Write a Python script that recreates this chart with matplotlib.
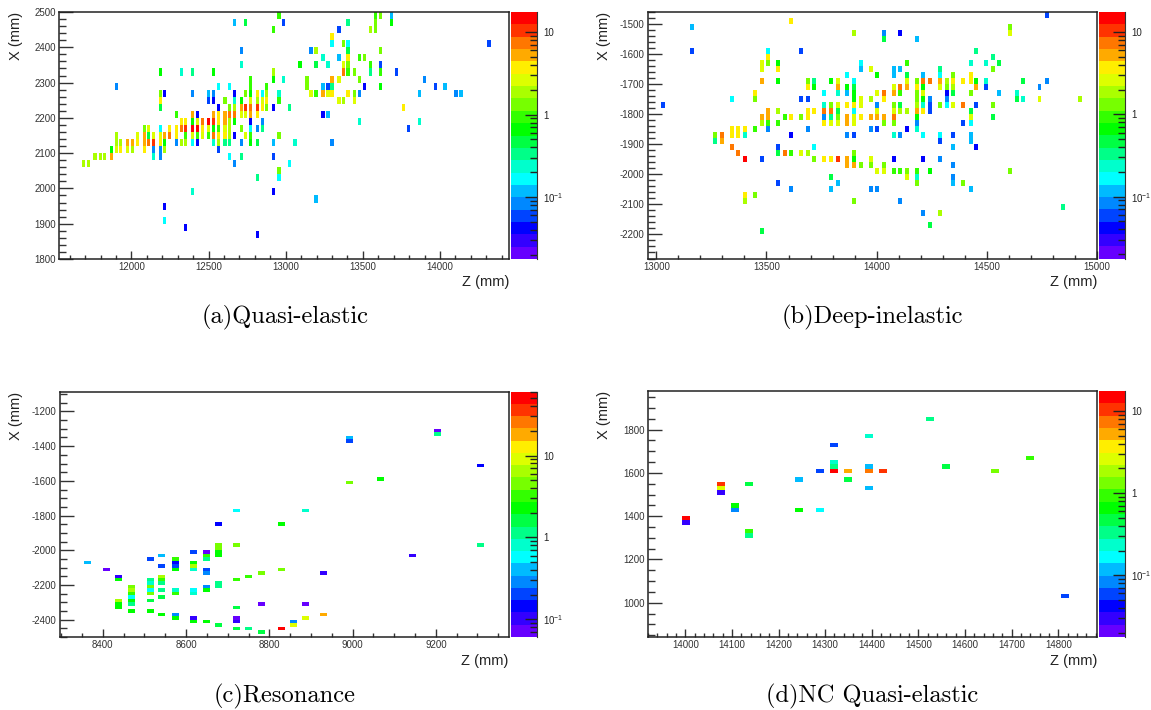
import numpy as np
import matplotlib
matplotlib.use('Agg')
import matplotlib.pyplot as plt
from matplotlib.colors import ListedColormap, BoundaryNorm
from matplotlib.ticker import MultipleLocator, LogLocator, NullFormatter

plt.rcParams['font.family'] = ['Liberation Sans', 'DejaVu Sans']
plt.rcParams['mathtext.fontset'] = 'custom'
plt.rcParams['mathtext.rm'] = 'Liberation Sans'
plt.rcParams['mathtext.default'] = 'rm'
plt.rcParams['axes.unicode_minus'] = False

W, H = 1151, 710

# Panel (a) Quasi-elastic: rows of X, with the Z and content of the filled bins in each row
a_x = [2490, 2470, 2450, 2430, 2410, 2390, 2370, 2350, 2330, 2310, 2290, 2270, 2250, 2230, 2210, 2190,
       2170, 2150, 2130, 2110, 2090, 2070, 2050, 2030, 1990, 1970, 1950, 1910, 1890, 1870]
a_z = [
    [12955, 13583, 13615, 13686],
    [12669, 12740, 12987, 13402, 13583, 13686],
    [12922, 13344, 13550, 13583],
    [13299],
    [13299, 13376, 13402, 14318],
    [12714, 13163, 13196, 13402, 13615],
    [13241, 13344, 13402, 13479, 13512],
    [12714, 13092, 13196, 13273, 13376, 13402, 13550, 13615],
    [12188, 12325, 12396, 12533, 12922, 13376, 13402, 13447, 13550, 13615, 13718],
    [12773, 12922, 12987, 13138, 13299, 13344, 13479, 13899],
    [11903, 12565, 12637, 12773, 12877, 13138, 13241, 13273, 13299, 13512, 13615, 13970, 14034],
    [12188, 12214, 12396, 12500, 12533, 12669, 12740, 12773, 12818, 12851, 12877, 12955, 13163, 13196,
     13241, 13273, 13299, 13402, 13447, 13479, 13866, 14105, 14137],
    [12188, 12500, 12533, 12607, 12669, 12714, 12773, 12818, 12851, 12877, 12955, 13344, 13376, 13447],
    [12188, 12565, 12637, 12669, 12714, 12740, 12773, 12818, 12851, 12877, 12922, 13026, 13763],
    [12292, 12396, 12429, 12533, 12565, 12607, 12637, 12669, 12714, 12740, 12773, 12818, 13241, 13273],
    [12325, 12351, 12396, 12429, 12461, 12500, 12533, 12565, 12607, 12637, 12669, 12773, 12851, 13479, 13866],
    [12084, 12110, 12188, 12247, 12292, 12325, 12351, 12396, 12429, 12461, 12500, 12533, 12565, 12607,
     12637, 12714, 12773, 12818, 12851, 13795],
    [11903, 12039, 12084, 12110, 12143, 12188, 12214, 12247, 12292, 12351, 12396, 12429, 12461, 12500,
     12533, 12565, 12607, 12637, 12669, 12740, 12773, 12955],
    [11903, 11929, 11974, 12006, 12039, 12084, 12110, 12143, 12188, 12214, 12292, 12325, 12351, 12396,
     12429, 12533, 12565, 12607, 12637, 12714, 12773, 12818, 12922, 13059, 13299],
    [11870, 11903, 11929, 11974, 12006, 12084, 12143, 12188, 12214, 12565],
    [11766, 11799, 11825, 11870, 12143, 12188, 12637, 12714, 12922],
    [11690, 11723, 12669, 13026],
    [12955],
    [12818, 12955],
    [12396, 12922],
    [13196],
    [12214],
    [12214],
    [12351],
    [12818],
]
a_v = [
    [.94, .94, 1.33, .118],
    [.118, .471, .059, .333, 1.33, .665],
    [.94, .059, 1.87, 1.33],
    [3.74],
    [.167, 1.33, .167, .059],
    [.084, .084, 1.87, .471, 1.33],
    [.236, .118, 3.74, .94, 1.33],
    [.236, .665, .471, .236, 2.65, 1.33, .94, .059],
    [.665, .236, .333, .665, 1.87, 7.46, .94, 1.33, .333, .94, .059],
    [.94, .665, .236, 1.33, 5.28, 2.65, 1.33, .084],
    [.084, .167, .167, .94, .94, 1.33, .118, .059, .333, .042, .665, .059, .118],
    [1.33, .042, .084, .118, .084, .042, 1.33, .665, 3.74, .167, 1.87, .236, 2.65, .94,
     5.28, 2.65, 3.74, 3.74, 1.33, .084, .118, .084, .118],
    [3.74, .059, .042, 1.33, .236, .665, 2.65, 1.87, 2.65, 3.74, .94, 2.65, 1.87, 2.65],
    [.471, .042, 1.33, 1.87, 5.28, 10.5, 7.46, 10.5, 3.74, 1.33, .042, .333, 3.74],
    [.94, 5.28, .042, 5.28, 3.74, 5.28, 7.46, 7.46, 2.65, 2.65, 5.28, 3.74, .042, .118],
    [3.74, 3.74, .665, 2.65, 7.46, 14.9, 10.5, 3.74, 5.28, 1.87, .665, .042, .084, .236, .236],
    [1.33, 2.65, .167, 3.74, 3.74, 7.46, 10.5, 14.9, 14.9, 3.74, 2.65, .665, .94, 2.65,
     1.87, 1.33, .167, .084, .333, .059],
    [1.87, 2.65, 5.28, .471, 2.65, 2.65, 5.28, 7.46, 3.74, .94, 2.65, .94, 2.65, .94,
     7.46, 3.74, 3.74, 1.87, .042, 2.65, .94, 1.33],
    [1.87, 1.87, 5.28, 5.28, 3.74, 5.28, 7.46, 10.5, 3.74, .665, .084, 1.87, 1.87, .167,
     .042, .236, 1.87, .333, .333, .084, .665, .471, .118, .236, .084],
    [.665, 2.65, 3.74, 2.65, 1.87, 3.74, .084, .084, 1.87, .059],
    [1.87, 1.87, 1.87, 5.28, .236, .084, .167, .333, .059],
    [1.87, 1.87, .084, .167],
    [1.33],
    [.333, .167],
    [.236, .042],
    [.118],
    [.042],
    [.167],
    [.042],
    [.042],
]

# Panel (b) Deep-inelastic
b_x = [-1470, -1490, -1510, -1530, -1550, -1590, -1610, -1630, -1650, -1670, -1690, -1710, -1730, -1750,
       -1770, -1790, -1810, -1830, -1850, -1870, -1890, -1910, -1930, -1950, -1970, -1990, -2010, -2030,
       -2050, -2070, -2090, -2110, -2130, -2170, -2190]
b_z = [
    [14771],
    [13612],
    [13162, 14603],
    [13898, 14035, 14107, 14603],
    [14035, 14185],
    [13162, 13508, 13657, 14453],
    [13508, 14530],
    [13480, 13508, 13553, 13930, 14139, 14426, 14498, 14557],
    [13480, 13553, 13930, 13976, 14080, 14107, 14289, 14530],
    [13867, 14003, 14080, 14139, 14212, 14289, 14348, 14426],
    [13480, 13553, 13689, 13717, 13794, 13826, 13898, 14139, 14185, 14212, 14244, 14289, 14321, 14348,
     14394, 14426, 14453, 14498, 14662, 14771],
    [13689, 13717, 13826, 13867, 13898, 14080, 14107, 14139, 14185, 14212, 14289, 14321, 14348, 14453,
     14498, 14739],
    [13448, 13762, 13826, 13867, 13898, 14003, 14035, 14080, 14107, 14185, 14212, 14321, 14348, 14426,
     14557, 14635],
    [13344, 13448, 13657, 13689, 13898, 13930, 13976, 14035, 14185, 14212, 14244, 14321, 14635, 14662,
     14739, 14921],
    [13030, 13762, 13794, 13826, 13867, 13898, 13930, 14003, 14080, 14107, 14185, 14212, 14244, 14289,
     14321, 14348, 14394, 14453, 14530],
    [13508, 13553, 13689, 13717, 13762, 13794, 13826, 13898, 14003, 14080, 14107, 14139, 14185, 14212,
     14244, 14426],
    [13480, 13508, 13585, 13612, 13657, 13689, 13762, 13794, 13826, 13867, 13898, 13930, 13976, 14003,
     14035, 14080, 14185, 14426, 14530],
    [13480, 13508, 13553, 13762, 13794, 13826, 13867, 13898, 14035, 14080, 14185, 14394, 14426],
    [13344, 13371, 13403, 13448, 13508, 13689, 13976, 14003, 14139, 14185],
    [13267, 13298, 13344, 13371, 13403, 13612, 13867, 13898, 14080, 14107, 14212, 14289, 14348, 14426],
    [13267, 13298, 14289, 14426],
    [13344, 13553, 13717, 14348, 14453],
    [13371, 13553, 13585, 13612, 13657, 13689, 13898],
    [13403, 13480, 13717, 13762, 13794, 13826, 13867, 13898, 13976, 14080, 14212, 14289],
    [13867, 13898, 13930, 13976, 14035, 14348],
    [14003, 14035, 14080, 14107, 14139, 14185, 14244, 14603],
    [13794, 14139, 14185, 14348],
    [13553, 13826, 14185, 14348, 14394],
    [13612, 13794, 13976, 14003, 14426],
    [13403, 13448],
    [13403, 13898, 14107],
    [14844],
    [14212, 14289],
    [14244],
    [13480],
]
b_v = [
    [.059],
    [3.74],
    [.118, 1.33],
    [1.87, .084, .042, 2.65],
    [.471, .118],
    [.059, .167, .059, .333],
    [3.74, .333],
    [2.65, 1.33, .665, .167, .94, .236, .236, .471],
    [2.65, 3.74, .118, 2.65, .118, .118, .333, 1.33],
    [.167, .665, .118, .471, .118, .167, 1.33, 3.74],
    [5.28, .665, 1.33, .333, .665, 2.65, .167, 2.65, 1.33, 7.46, 7.46, 5.28, 1.87, 3.74,
     3.74, 3.74, .665, .236, .471, .084],
    [3.74, .665, 5.28, .665, .471, 2.65, 7.46, 5.28, 3.74, .665, 2.65, 1.33, 1.87, 5.28,
     .059, .084],
    [3.74, .167, .236, .118, .665, 2.65, 7.46, 5.28, .94, 1.33, 2.65, .042, .471, 1.33,
     .118, .236],
    [.167, 1.33, .059, .059, .665, 2.65, 1.87, 3.74, 1.33, .665, .084, .084, .471, .236,
     2.65, 1.87],
    [.059, .236, 1.33, 2.65, 3.74, 3.74, 2.65, .084, 1.33, .471, 1.87, .236, .059, 1.33,
     .167, 2.65, 7.46, .059, 1.33],
    [5.28, 1.87, 3.74, 3.74, 7.46, 7.46, .471, .167, 2.65, 2.65, 1.87, 1.87, 5.28, 3.74,
     .059, .471],
    [5.28, 5.28, .94, 3.74, 1.33, 3.74, .084, .333, 1.33, 5.28, 2.65, 3.74, 5.28, 5.28,
     5.28, 7.46, .665, 2.65, .471],
    [1.87, .94, .94, 3.74, 2.65, 2.65, 5.28, 2.65, 1.33, 1.33, .084, .059, .167],
    [3.74, 3.74, 3.74, .94, .084, .084, .084, .059, .042, .236],
    [1.33, 7.46, 3.74, 3.74, .236, .042, .084, .059, .236, .084, .167, .167, .059, .118],
    [.333, 5.28, .059, .118],
    [7.46, .059, .167, .118, .042],
    [7.46, .471, 7.46, .94, 2.65, 1.87, 1.33],
    [14.9, .059, 1.33, 3.74, 3.74, 10.5, 5.28, .665, 2.65, .042, .042, .084],
    [5.28, 5.28, 1.33, 1.33, 1.33, .084],
    [2.65, 2.65, .94, .94, 1.33, .94, .665, 1.33],
    [.471, 2.65, .236, .084],
    [.059, .118, 1.33, .118, 1.33],
    [.084, .118, .084, .084, .118],
    [3.74, 1.33],
    [1.87, 1.33, .084],
    [.333],
    [.084, 1.87],
    [.471],
    [.471],
]

# Panel (c) Resonance
c_x = [-1310, -1330, -1350, -1370, -1510, -1590, -1610, -1770, -1850, -1970, -1990, -2010, -2030, -2050,
       -2070, -2090, -2110, -2130, -2150, -2170, -2190, -2210, -2230, -2250, -2270, -2290, -2310, -2330,
       -2350, -2370, -2390, -2410, -2430, -2450, -2470]
c_z = [
    [9204],
    [9204],
    [8993],
    [8993],
    [9307],
    [9067],
    [8993],
    [8722, 8888],
    [8677, 8829],
    [8677, 8722, 9307],
    [8677],
    [8617, 8649, 8677],
    [8542, 8649, 8677, 9144],
    [8514, 8574, 8649],
    [8363, 8574, 8617],
    [8542, 8574, 8617],
    [8408, 8574, 8617, 8649, 8829],
    [8649, 8782, 8931],
    [8438, 8542, 8751],
    [8438, 8514, 8542, 8722],
    [8514, 8542, 8677],
    [8469, 8514, 8649, 8677],
    [8469, 8514, 8542, 8574, 8617, 8649],
    [8469, 8514, 8574, 8617],
    [8469, 8542],
    [8438, 8469, 8514],
    [8438, 8469, 8782, 8888],
    [8438, 8722],
    [8469, 8514],
    [8542, 8574, 8931],
    [8574, 8617, 8722, 8888],
    [8617, 8649, 8722, 8858],
    [8677, 8858],
    [8722, 8751, 8829],
    [8782],
]
c_v = [
    [.072],
    [1.15],
    [.406],
    [.203],
    [.145],
    [2.29],
    [4.57],
    [.574, .812],
    [.145, 2.29],
    [4.57, 4.57, 1.15],
    [4.57],
    [.203, .072, 2.29],
    [.406, 3.23, 2.29, .103],
    [.203, 3.23, 1.15],
    [.406, .145, 2.29],
    [.203, .203, 6.44],
    [.072, 2.29, .812, .203, 4.57],
    [.289, 4.57, .103],
    [.103, 6.44, 3.23],
    [2.29, 1.15, 3.23, 3.23],
    [.812, 1.15, 1.15],
    [4.57, 4.57, .289, 1.15],
    [6.44, .574, 1.15, .812, .574, 2.29],
    [3.23, 4.57, 3.23, .812],
    [.574, 1.62],
    [6.44, 2.29, 1.62],
    [2.29, 1.15, .072, .072],
    [2.29, 1.62],
    [2.29, 2.29],
    [2.29, .289, 18.2],
    [2.29, .103, .072, 9.12],
    [2.29, 2.29, .103, .289],
    [1.62, 9.12],
    [1.62, 1.15, 51.3],
    [1.62],
]

# Panel (d) NC Quasi-elastic
d_x = [1850, 1770, 1730, 1670, 1650, 1630, 1610, 1570, 1550, 1530, 1510, 1450, 1430, 1390, 1370, 1330,
       1310, 1030]
d_z = [
    [14525],
    [14394],
    [14319],
    [14739],
    [14319],
    [14319, 14394, 14559],
    [14289, 14319, 14349, 14394, 14424, 14664],
    [14244, 14349],
    [14077, 14137],
    [14077, 14394],
    [14077],
    [14107],
    [14107, 14244, 14289],
    [14002],
    [14002],
    [14137],
    [14137],
    [14814],
]
d_v = [
    [.333],
    [.236],
    [.059],
    [.94],
    [.236],
    [.333, .118, .471],
    [.059, 14.9, 5.28, 7.46, 10.5, 1.33],
    [.118, .471],
    [10.5, .471],
    [2.65, .118],
    [.03],
    [.665],
    [.084, .665, .167],
    [14.9],
    [.03],
    [.94],
    [.333],
    [.059],
]

captions = ['(a)Quasi-elastic', '(b)Deep-inelastic', '(c)Resonance', '(d)NC Quasi-elastic']

palette = ['#6600ff', '#3300ff', '#0000ff', '#0044ff', '#0088ff', '#00bbff', '#00ffff', '#00ffcc', '#00ff88',
           '#00ff44', '#00ff00', '#33ff00', '#77ff00', '#aaff00', '#ddff00', '#ffee00', '#ffaa00', '#ff7700',
           '#ff3300', '#ff0000']
cmap = ListedColormap(palette)

fig = plt.figure(figsize=(W / 100, H / 100), dpi=100)


def px_axes(left, top, right, bottom):
    return fig.add_axes([left / W, 1 - bottom / H, (right - left) / W, (bottom - top) / H])


def draw_panel(box, cbox, rows, zs, vs, xlim, ylim, zrange, xstep, ystep, zw, caption, cap_y, cap_x, ylab_px):
    ax = px_axes(*box)
    levels = np.logspace(np.log10(zrange[0]), np.log10(zrange[1]), 21)
    norm = BoundaryNorm(levels, 20)
    for x, z_row, v_row in zip(rows, zs, vs, strict=True):
        ax.bar(z_row, 20, width=zw, bottom=x - 10, color=cmap(norm(np.array(v_row))), linewidth=0)
    ax.set_xlim(*xlim)
    ax.set_ylim(*ylim)
    ax.xaxis.set_major_locator(MultipleLocator(xstep[0]))
    ax.xaxis.set_minor_locator(MultipleLocator(xstep[1]))
    ax.yaxis.set_major_locator(MultipleLocator(ystep[0]))
    ax.yaxis.set_minor_locator(MultipleLocator(ystep[1]))
    ax.tick_params(axis='x', which='major', direction='in', length=6, width=1, labelsize=7, pad=2.5, colors='#333333')
    ax.tick_params(axis='x', which='minor', direction='in', length=3, width=1, color='#333333')
    ax.tick_params(axis='y', which='major', direction='in', length=10, width=1, labelsize=7, pad=2, colors='#333333')
    ax.tick_params(axis='y', which='minor', direction='in', length=5, width=1, color='#333333')
    for s in ax.spines.values():
        s.set_linewidth(1.1)
        s.set_color('#222222')
    ax.set_xlabel('Z (mm)', fontsize=10.5, ha='right', color='#222222')
    ax.xaxis.set_label_coords(1, -16.5 / (box[3] - box[1]))
    ax.set_ylabel('X (mm)', fontsize=10.5, ha='right', color='#222222')
    ax.yaxis.set_label_coords((ylab_px - box[0]) / (box[2] - box[0]), 1)

    cax = px_axes(*cbox)
    cax.pcolormesh([0, 1], levels, np.sqrt(levels[:-1] * levels[1:]).reshape(-1, 1), cmap=cmap, norm=norm)
    cax.set_yscale('log')
    cax.set_ylim(*zrange)
    cax.set_xticks([])
    cax.yaxis.tick_right()
    cax.yaxis.set_major_locator(LogLocator(base=10, numticks=6))
    cax.yaxis.set_minor_locator(LogLocator(base=10, subs=np.arange(2, 10) * 0.1, numticks=12))
    cax.yaxis.set_minor_formatter(NullFormatter())
    cax.set_yticks([.1, 1, 10], ['10$^{-1}$', '1', '10'])
    cax.tick_params(axis='y', which='major', direction='in', length=9, width=1, labelsize=7, pad=4.5, colors='#222222')
    cax.tick_params(axis='y', which='minor', direction='in', length=5, width=1, color='#222222')
    for name, s in cax.spines.items():
        s.set_visible(name == 'right')
        s.set_color('#333333')
    fig.text(cap_x / W, 1 - cap_y / H, caption, family='cmr10', fontsize=17.6, ha='center', va='center')


draw_panel((59, 12, 509, 259), (511, 12, 537, 259), a_x, a_z, a_v, (11531, 14447), (1800, 2500), (0.0177, 17.5),
           (500, 100), (100, 20), 23, captions[0], 317, 285, 23)
draw_panel((647.5, 12, 1097, 258.5), (1099, 12, 1125, 258.5), b_x, b_z, b_v, (12960, 15000), (-2280, -1460),
           (0.0177, 17.5), (500, 100), (100, 20), 18, captions[1], 317, 872, 611)
draw_panel((59.5, 391.5, 508.7, 637), (511, 391.5, 536.7, 637), c_x, c_z, c_v, (8296, 9375), (-2500, -1085),
           (0.061, 60.5), (200, 50), (200, 50), 17, captions[2], 696, 285, 23)
draw_panel((647.5, 391, 1097, 637), (1099, 391, 1125, 637), d_x, d_z, d_v, (13919, 14883), (842, 1978),
           (0.0177, 17.5), (100, 20), (200, 50), 17, captions[3], 696, 872, 611)

fig.savefig('out.png', dpi=100)
